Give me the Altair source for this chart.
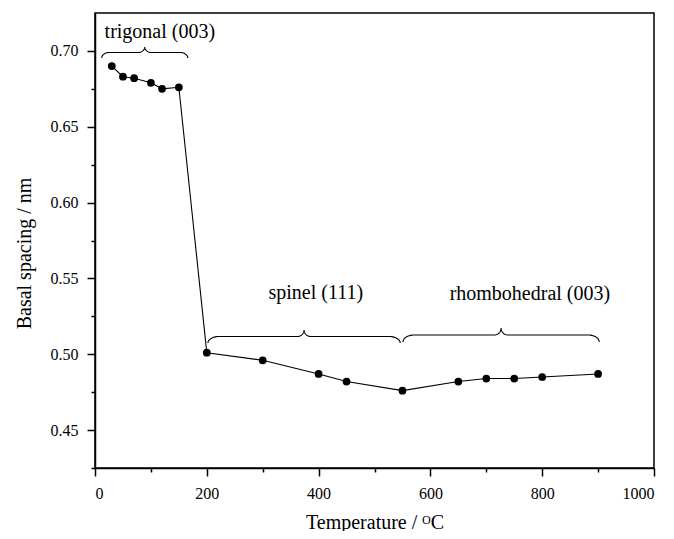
import math
import altair as alt
import pandas as pd

# Measured data
temps = [30, 50, 70, 100, 120, 150, 200, 300, 400, 450, 550, 650, 700, 750, 800, 900]
spacing = [0.690, 0.683, 0.682, 0.679, 0.675, 0.676, 0.501, 0.496, 0.487, 0.482,
           0.476, 0.482, 0.484, 0.484, 0.485, 0.487]

# Brace annotations (data units)
brace_labels = ["trigonal (003)", "spinel (111)", "rhombohedral (003)"]
brace_start = [12, 202, 551]
brace_end = [166, 546, 902]
brace_base = [0.6953, 0.5074, 0.5081]
brace_tip = [0.7026, 0.5160, 0.5173]
label_x = [116, 395, 778]
label_y = [0.7085, 0.5365, 0.5355]

x_major = [0, 200, 400, 600, 800, 1000]
x_minor = [100, 300, 500, 700, 900]
y_major = [0.45, 0.50, 0.55, 0.60, 0.65, 0.70]
y_minor = [0.425, 0.475, 0.525, 0.575, 0.625, 0.675]

FONT = "Liberation Serif"


def brace_points(x0, x1, yb, yt, n=14):
    xm = (x0 + x1) / 2.0
    yl = (yb + yt) / 2.0
    r1 = min(20.0, 0.09 * (x1 - x0))
    r2 = 12.0
    pts = []
    for i in range(n + 1):
        th = math.pi / 2 * i / n
        pts.append((x0 + r1 - r1 * math.cos(th), yb + (yl - yb) * math.sin(th)))
    for i in range(n + 1):
        ph = math.pi / 2 * i / n
        pts.append((xm - r2 + r2 * math.sin(ph), yt - (yt - yl) * math.cos(ph)))
    right = [(2 * xm - px, py) for (px, py) in reversed(pts)]
    return pts + right


rows = []
for b in range(len(brace_labels)):
    for k, (px, py) in enumerate(brace_points(brace_start[b], brace_end[b], brace_base[b], brace_tip[b])):
        rows.append({"brace": brace_labels[b], "order": k, "x": px, "y": py})
brace_df = pd.DataFrame(rows)

data_df = pd.DataFrame({"x": temps, "y": spacing})
label_df = pd.DataFrame({"x": label_x, "y": label_y, "text": brace_labels})

x_scale = alt.Scale(domain=[0, 1000], nice=False, zero=False)
y_scale = alt.Scale(domain=[0.425, 0.725], nice=False, zero=False)

x_axis_major = alt.Axis(
    values=x_major,
    orient="bottom",
    title="Temperature / ᴼC",
    format="d",
    tickSize=8,
    labelPadding=9,
    titleY=60,
    titleBaseline="alphabetic",
    grid=False,
)
x_axis_minor = alt.Axis(
    values=x_minor, orient="bottom", tickSize=4, labels=False, domain=False, title=None, grid=False
)
y_axis_major = alt.Axis(
    values=y_major,
    orient="left",
    title="Basal spacing / nm",
    format=".2f",
    tickSize=8,
    labelPadding=9,
    titleX=-61,
    titleY=240,
    grid=False,
)
y_axis_minor = alt.Axis(
    values=y_minor, orient="left", tickSize=4, labels=False, domain=False, title=None, grid=False
)

line = alt.Chart(data_df).mark_line(color="black", strokeWidth=1.1).encode(
    x=alt.X("x:Q", scale=x_scale, axis=x_axis_minor),
    y=alt.Y("y:Q", scale=y_scale, axis=y_axis_minor),
)
points = alt.Chart(data_df).mark_circle(size=60, color="black", opacity=1).encode(
    x=alt.X("x:Q", scale=x_scale, axis=x_axis_major),
    y=alt.Y("y:Q", scale=y_scale, axis=y_axis_major),
)
braces = alt.Chart(brace_df).mark_line(color="black", strokeWidth=1.1).encode(
    x=alt.X("x:Q", scale=x_scale, axis=None),
    y=alt.Y("y:Q", scale=y_scale, axis=None),
    detail="brace:N",
    order="order:Q",
)
labels = alt.Chart(label_df).mark_text(
    font=FONT, fontSize=20, align="center", baseline="alphabetic", color="black"
).encode(
    x=alt.X("x:Q", scale=x_scale, axis=None),
    y=alt.Y("y:Q", scale=y_scale, axis=None),
    text="text:N",
)

chart = (
    alt.layer(line, points, braces, labels)
    .resolve_axis(x="independent", y="independent")
    .properties(
        width=559,
        height=455,
        autosize=alt.AutoSizeParams(type="none"),
        padding={"left": 87, "top": 5, "right": 12, "bottom": 63},
    )
    .configure_view(stroke="black", strokeWidth=1.5)
    .configure_axis(
        domainColor="black",
        domainWidth=1.5,
        tickColor="black",
        tickWidth=1.5,
        labelFont=FONT,
        labelFontSize=16,
        labelColor="black",
        titleFont=FONT,
        titleFontSize=20,
        titleFontWeight="normal",
        titleColor="black",
    )
)

chart.save("out.html", embed_options={"renderer": "svg", "actions": False})
